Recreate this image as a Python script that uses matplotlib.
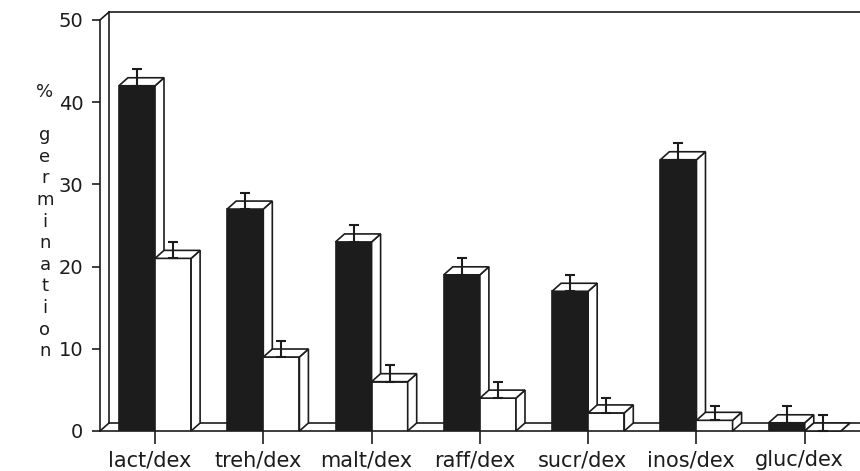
import numpy as np
import matplotlib.pyplot as plt
from matplotlib.patches import Polygon

# values (% germination)
categories = ['lact/dex', 'treh/dex', 'malt/dex', 'raff/dex', 'sucr/dex', 'inos/dex', 'gluc/dex']
dark_vals = [42, 27, 23, 19, 17, 33, 1]
dark_err = [2, 2, 2, 2, 2, 2, 2]
light_vals = [21, 9, 6, 4, 2.2, 1.3, 0]
light_err = [2, 2, 2, 2, 1.8, 1.7, 2]

W = 860
H = 471
INK = '#1c1c1c'
fig = plt.figure(figsize=(W / 100, H / 100), dpi=100)
ax = fig.add_axes([100 / W, 40 / H, 760 / W, 411 / H])

xmin, xmax = -0.508, 6.51
ax.set_xlim(xmin, xmax)
ax.set_ylim(0, 50)

# depth of the fake 3d look, in data units
DX = 9 / 108.3
DY = 8 / 8.22
bw = 1 / 3
x = np.arange(len(categories))

# back wall / floor
lk = dict(color=INK, lw=1.2, clip_on=False, zorder=1)
ax.plot([xmin, xmin + DX], [50, 50 + DY], **lk)
ax.plot([xmin + DX, xmax], [50 + DY, 50 + DY], **lk)
ax.plot([xmin + DX, xmin + DX], [DY, 50 + DY], **lk)
ax.plot([xmin, xmin + DX], [0, DY], **lk)
ax.plot([xmin + DX, xmax], [DY, DY], **lk)


def draw_bars(left, vals, color, z):
    ax.bar(left, vals, width=bw, align='edge', color=color, edgecolor=INK,
           linewidth=1.2, zorder=z)
    for x0, h in zip(left, vals):
        x1 = x0 + bw
        top = [(x0, h), (x0 + DX, h + DY), (x1 + DX, h + DY), (x1, h)]
        side = [(x1, 0), (x1 + DX, DY), (x1 + DX, h + DY), (x1, h)]
        for pts in (side, top):
            ax.add_patch(Polygon(pts, closed=True, facecolor='white',
                                 edgecolor=INK, linewidth=1.2, zorder=z,
                                 clip_on=False))


draw_bars(x - bw, dark_vals, INK, 2)
draw_bars(x, light_vals, 'white', 3)

eb = dict(fmt='none', ecolor=INK, elinewidth=1.5, capsize=3.5, capthick=1.5,
          zorder=6, clip_on=False)
ax.errorbar(x - bw / 2, dark_vals, yerr=[np.zeros(len(x)), dark_err], **eb)
ax.errorbar(x + bw / 2, light_vals, yerr=[np.zeros(len(x)), light_err], **eb)

for s in ['top', 'right']:
    ax.spines[s].set_visible(False)
for s in ['left', 'bottom']:
    ax.spines[s].set_color(INK)
    ax.spines[s].set_linewidth(1.2)

ax.set_yticks(range(0, 51, 10))
ax.tick_params(axis='y', direction='out', length=6, width=1.2, color=INK,
               labelsize=14, pad=6, labelcolor=INK)
ax.set_xticks(x)
ax.set_xticklabels([])
ax.tick_params(axis='x', direction='inout', length=18, width=1.2, color=INK)

for xi, lab in zip(x, categories):
    ax.text(xi - 0.05, -(466 - 431) / 411, lab, transform=ax.get_xaxis_transform(),
            ha='center', va='baseline', fontsize=15, color=INK)

# stacked vertical y label
ylab = ['%', ''] + list('germination')
for k, ch in enumerate(ylab):
    fig.text(45 / W, 1 - (92 + 21.6 * k) / H, ch, ha='center', va='center',
             fontsize=13, color=INK)

fig.savefig('out.png', dpi=100)
